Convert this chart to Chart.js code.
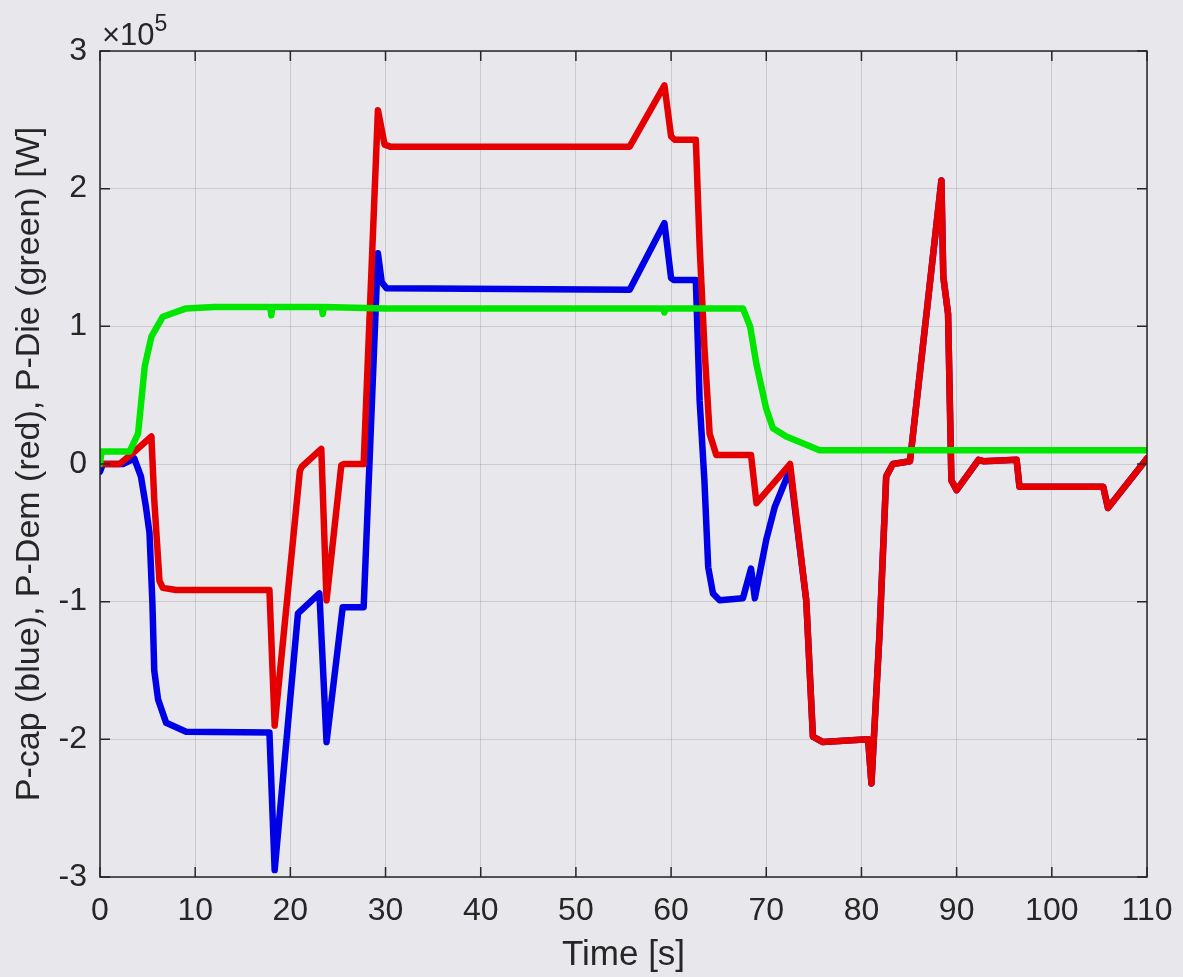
<!DOCTYPE html>
<html>
<head>
<meta charset="utf-8">
<script src="https://cdn.jsdelivr.net/npm/chart.js@4.4.1/dist/chart.umd.min.js"></script>
<style>
  html, body { margin: 0; padding: 0; background: #e8e8ec; }
  canvas { display: block; }
</style>
</head>
<body>
<canvas id="chart" width="1183" height="977"></canvas>
<script>
// time axis [s] and power values [W]
const capTime = [0, 0.3, 2.4, 3.6, 4.3, 4.8, 5.2, 5.5, 5.7, 6.1, 6.95, 9.05, 17.8, 18.35, 20.8, 23.05, 23.8, 25.5, 27.7,
  29.2, 29.6, 30.1, 55.65, 59.3, 60.0, 60.3, 62.6, 63.0, 63.5, 63.9, 64.4, 65.1, 67.55, 68.4, 68.8, 70.0, 70.9, 72.5,
  74.2, 74.9, 75.95, 80.7, 81.05, 81.9, 82.6, 83.3, 85.1, 88.4, 88.6, 89.1, 89.45, 90.0, 92.3, 92.8, 96.3, 96.6,
  105.4, 105.9, 110];
const capPower = [-5500, 0, 0, 4000, -9000, -30000, -50000, -100000, -150000, -171000, -188000, -194500, -195000,
  -295000, -108500, -94000, -202000, -104000, -104000, 153000, 132000, 127600, 126500, 175000, 135000, 133600,
  133600, 46000, -12000, -75000, -94000, -99000, -97500, -76000, -97500, -55000, -31000, -4000,
  -99000, -198000, -202000, -200000, -232000, -123000, -9000, 0, 2000, 206000, 136000, 109000, -12000, -19000,
  3000, 2000, 3000, -16500, -16500, -32000, 4000];

const demTime = [0, 2.05, 3.45, 5.4, 5.7, 6.25, 6.6, 8.0, 17.8, 18.35, 21.0, 21.2, 23.25, 23.8, 25.35, 25.6, 27.7,
  29.2, 29.9, 30.5, 55.65, 59.3, 60.0, 60.4, 62.6, 63.0, 63.5, 64.05, 64.75, 68.4, 68.97, 72.5, 74.2, 74.9, 75.95,
  80.7, 81.05, 81.9, 82.6, 83.3, 85.1, 88.4, 88.6, 89.1, 89.45, 90.0, 92.3, 92.8, 96.3, 96.6, 105.4, 105.9, 110];
const demPower = [0, 0, 8000, 20000, -26000, -85000, -90000, -91500, -91500, -190000, -5000, -2000, 11000, -99000,
  -1000, 0, 0, 257000, 232000, 230500, 230500, 275000, 238000, 235500, 235500, 158000, 85000, 22000, 6500, 6500,
  -28500, 0, -99000, -198000, -202000, -200000, -232000, -123000, -9000, 0, 2000, 206000, 136000, 109000, -12000,
  -19000, 3000, 2000, 3000, -16500, -16500, -32000, 4000];

const dieTime = [0, 0.15, 3.1, 4.0, 4.7, 5.4, 6.6, 9.05, 12, 17.9, 18.0, 18.1, 23.3, 23.4, 23.5, 30, 59.2, 59.3, 59.4,
  67.55, 68.3, 68.95, 70.0, 70.7, 72.1, 75.6, 110];
const diePower = [0, 9000, 9000, 22000, 71000, 92500, 107000, 113000, 114000, 114000, 108000, 114000, 114000,
  109000, 114000, 113000, 113000, 110000, 113000, 113000, 100000, 73000, 40000, 26000, 20000, 10000, 10000];

const xTicks = [0, 10, 20, 30, 40, 50, 60, 70, 80, 90, 100, 110];
const yTicks = [-300000, -200000, -100000, 0, 100000, 200000, 300000];

const FONT = '"Liberation Sans", Arial, Helvetica, sans-serif';
const INK = '#262626';

const toPoints = (ts, vs) => ts.map((t, i) => ({ x: t, y: vs[i] }));

const boxPlugin = {
  id: 'box',
  beforeDraw(chart) {
    const ctx = chart.ctx;
    ctx.save();
    ctx.fillStyle = '#e8e8ec';
    ctx.fillRect(0, 0, chart.width, chart.height);
    ctx.restore();
  },
  afterDraw(chart) {
    const { ctx, chartArea: a, scales: { x, y } } = chart;
    ctx.save();
    ctx.strokeStyle = INK;
    ctx.lineWidth = 1.5;
    ctx.strokeRect(a.left, a.top, a.right - a.left, a.bottom - a.top);
    ctx.beginPath();
    xTicks.forEach(v => {
      const px = x.getPixelForValue(v);
      ctx.moveTo(px, a.bottom); ctx.lineTo(px, a.bottom - 10);
      ctx.moveTo(px, a.top); ctx.lineTo(px, a.top + 10);
    });
    yTicks.forEach(v => {
      const py = y.getPixelForValue(v);
      ctx.moveTo(a.left, py); ctx.lineTo(a.left + 10, py);
      ctx.moveTo(a.right, py); ctx.lineTo(a.right - 10, py);
    });
    ctx.stroke();

    // exponent label
    ctx.fillStyle = INK;
    ctx.textBaseline = 'alphabetic';
    ctx.font = '31px ' + FONT;
    ctx.fillText('×10', a.left + 2, 45);
    const w = ctx.measureText('×10').width;
    ctx.font = '23px ' + FONT;
    ctx.fillText('5', a.left + 2 + w, 31);
    ctx.restore();
  }
};

new Chart(document.getElementById('chart'), {
  type: 'line',
  data: {
    datasets: [
      {
        label: 'P-Die',
        data: toPoints(dieTime, diePower),
        borderColor: 'rgb(0, 230, 0)',
        order: 0
      },
      {
        label: 'P-Dem',
        data: toPoints(demTime, demPower),
        borderColor: 'rgb(228, 0, 0)',
        order: 1
      },
      {
        label: 'P-cap',
        data: toPoints(capTime, capPower),
        borderColor: 'rgb(0, 0, 230)',
        order: 2
      }
    ]
  },
  options: {
    responsive: false,
    animation: false,
    devicePixelRatio: 1,
    layout: { padding: { top: 51, right: 36, left: 0, bottom: 0 } },
    elements: {
      line: { borderWidth: 6.5, tension: 0, borderJoinStyle: 'round', borderCapStyle: 'round' },
      point: { radius: 0 }
    },
    plugins: {
      legend: { display: false },
      tooltip: { enabled: false }
    },
    scales: {
      x: {
        type: 'linear',
        min: 0,
        max: 110,
        afterFit: s => { s.height = 100; s.paddingLeft = 0; s.paddingRight = 0; },
        afterBuildTicks: s => { s.ticks = xTicks.map(v => ({ value: v })); },
        grid: { color: 'rgba(0,0,0,0.12)', lineWidth: 1, drawTicks: false },
        border: { display: false },
        ticks: {
          color: INK,
          font: { family: FONT, size: 32 },
          padding: 15,
          maxRotation: 0,
          callback: v => String(v)
        },
        title: {
          display: true,
          text: 'Time [s]',
          color: INK,
          font: { family: FONT, size: 35 },
          padding: { top: 0, bottom: 1 }
        }
      },
      y: {
        min: -300000,
        max: 300000,
        afterFit: s => { s.width = 100; s.paddingTop = 0; s.paddingBottom = 0; },
        afterBuildTicks: s => { s.ticks = yTicks.map(v => ({ value: v })); },
        grid: { color: 'rgba(0,0,0,0.12)', lineWidth: 1, drawTicks: false },
        border: { display: false },
        ticks: {
          color: INK,
          font: { family: FONT, size: 32 },
          padding: 13,
          callback: v => String(Math.round(v / 100000))
        },
        title: {
          display: true,
          text: 'P-cap (blue), P-Dem (red), P-Die (green) [W]',
          color: INK,
          font: { family: FONT, size: 34 },
          padding: { top: 9, bottom: 0 }
        }
      }
    }
  },
  plugins: [boxPlugin]
});
</script>
</body>
</html>
